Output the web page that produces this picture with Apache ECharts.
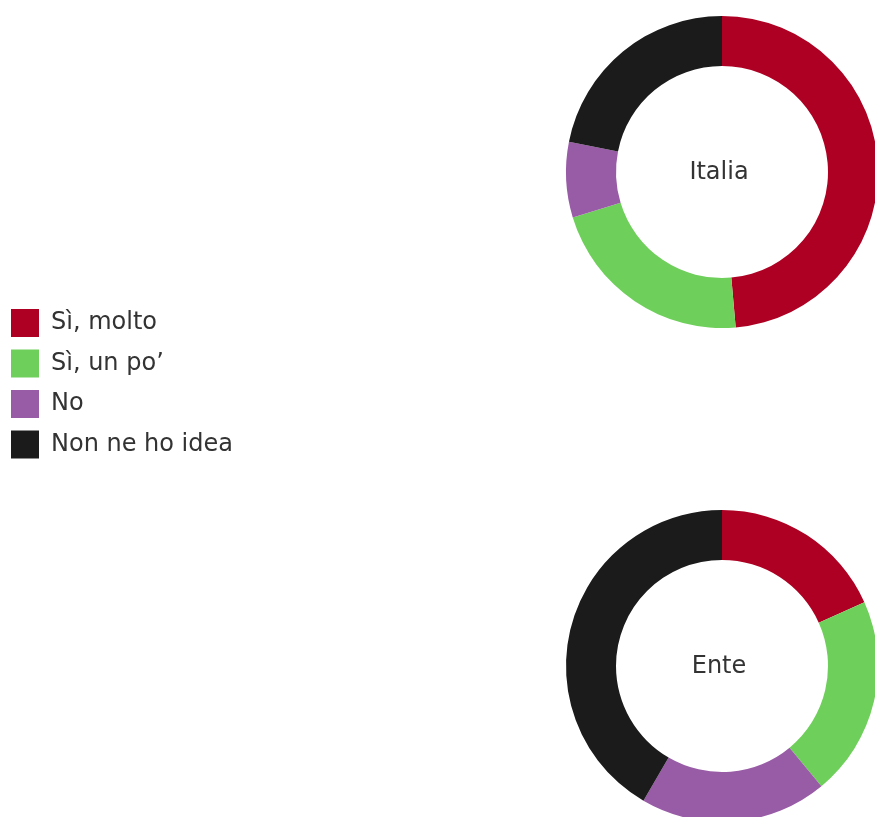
<!DOCTYPE html>
<html>
<head>
<meta charset="utf-8">
<script src="https://cdn.jsdelivr.net/npm/echarts@6/dist/echarts.min.js"></script>
<style>
  html, body { margin: 0; padding: 0; background: #fff; }
  #chart { width: 875px; height: 817px; }
</style>
</head>
<body>
<div id="chart"></div>
<script>
// categorie e valori (percentuali)
var categories = ['Sì, molto', 'Sì, un po’', 'No', 'Non ne ho idea'];
var italiaValues = [48.6, 21.7, 7.8, 21.9];
var enteValues = [18.3, 20.7, 19.4, 41.6];
var colors = ['#ad0023', '#6fcf5b', '#985ba6', '#1b1b1b'];

function toData(values) {
  return categories.map(function (name, i) {
    return { name: name, value: values[i] };
  });
}

var chart = echarts.init(document.getElementById('chart'));

var labelStyle = { fontFamily: 'DejaVu Sans', fontSize: 24, fontWeight: 'normal', color: '#333' };

var option = {
  color: colors,
  animation: false,
  title: [
    { text: 'Italia', left: 714, top: 168, textAlign: 'center', textVerticalAlign: 'middle', textStyle: labelStyle },
    { text: 'Ente', left: 714, top: 662, textAlign: 'center', textVerticalAlign: 'middle', textStyle: labelStyle }
  ],
  legend: {
    orient: 'vertical',
    left: 6,
    top: 304,
    icon: 'rect',
    itemWidth: 28,
    itemHeight: 28,
    itemGap: 12.5,
    data: categories,
    textStyle: {
      fontFamily: 'DejaVu Sans',
      fontSize: 24,
      color: '#333',
      padding: [2, 0, 0, 7]
    }
  },
  series: [
    {
      name: 'Italia',
      type: 'pie',
      center: [722, 172],
      radius: [106, 156],
      startAngle: 90,
      clockwise: true,
      label: { show: false },
      labelLine: { show: false },
      emphasis: { disabled: true },
      data: toData(italiaValues)
    },
    {
      name: 'Ente',
      type: 'pie',
      center: [722, 666],
      radius: [106, 156],
      startAngle: 90,
      clockwise: true,
      label: { show: false },
      labelLine: { show: false },
      emphasis: { disabled: true },
      data: toData(enteValues)
    }
  ]
};

chart.setOption(option);
</script>
</body>
</html>
